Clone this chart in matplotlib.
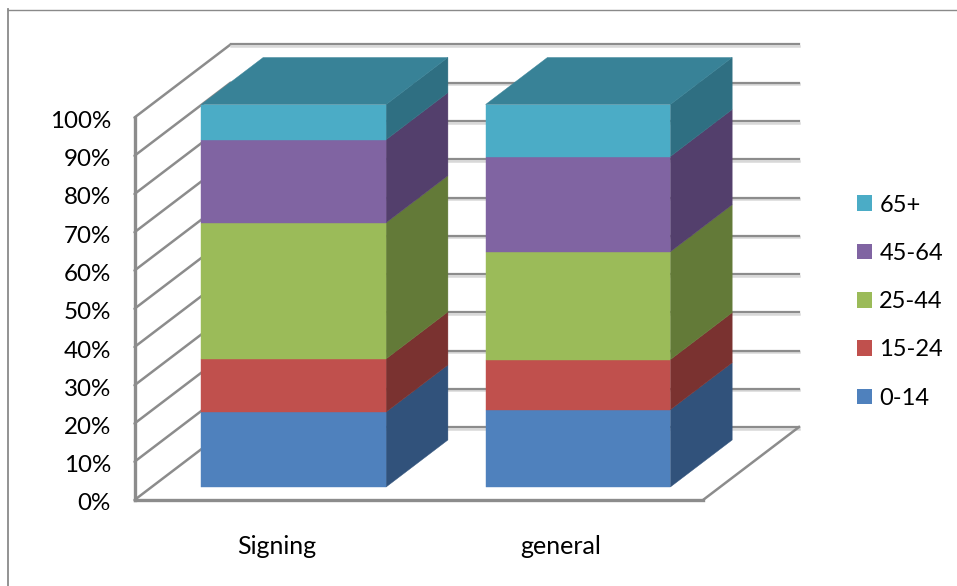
import matplotlib
matplotlib.use("Agg")
import matplotlib.pyplot as plt
from matplotlib.lines import Line2D
from matplotlib.patches import Patch, Polygon
from matplotlib.transforms import ScaledTranslation

plt.rcParams["font.family"] = ["Lato", "DejaVu Sans"]

# Population share by age band
categories = ["Signing", "general"]
age_bands = ["0-14", "15-24", "25-44", "45-64", "65+"]
signing_values = [19.6, 13.9, 35.6, 21.7, 9.2]
general_values = [20.2, 13.1, 28.2, 24.9, 13.6]
series_by_category = [signing_values, general_values]
y_ticks = list(range(0, 101, 10))

front_colors = ["#4f81bd", "#c0504d", "#9bbb59", "#8064a2", "#4bacc6"]
side_colors = ["#31527b", "#7a3230", "#637a38", "#533f6c", "#2f6f82"]
top_color = "#388297"
grid_color = "#8c8c8c"
shadow_color = "#d8d8d8"

W, H = 957, 586
fig = plt.figure(figsize=(W / 100, H / 100), dpi=100, facecolor="white")

# The axes rectangle is the front plane of the oblique box
left, right, bottom, top = 134.5, 703.0, 500.0, 117.5
ax = fig.add_axes([left / W, 1 - bottom / H, (right - left) / W, (bottom - top) / H])
ax.set_xlim(0, len(categories))
ax.set_ylim(0, 100)
ax.set_facecolor("none")

# Oblique depth: full box depth in category and percent units
depth_x = 96.0 / ((right - left) / len(categories))
depth_y = 73.0 / ((bottom - top) / 100)


def project(x, y, z):
    return x + z * depth_x, y + z * depth_y


def face(corners, color, zorder):
    ax.add_patch(Polygon([project(*c) for c in corners], closed=True, facecolor=color,
                         edgecolor=color, linewidth=0.3, zorder=zorder, clip_on=False))


# Wall and floor lines
for tick in y_ticks:
    xs, ys = zip(project(0, tick, 0), project(0, tick, 1))
    bx, by = zip(project(0, tick, 1), project(len(categories), tick, 1))
    ax.plot(xs, ys, color=grid_color, lw=1.8, zorder=1, clip_on=False, solid_capstyle="round")
    ax.plot(bx, [v - 0.45 for v in by], color=shadow_color, lw=1.8, zorder=1, clip_on=False)
    ax.plot(bx, by, color=grid_color, lw=1.6, zorder=1.1, clip_on=False)
fx, fy = zip(project(len(categories), 0, 0), project(len(categories), 0, 1))
ax.plot(fx, fy, color=grid_color, lw=1.8, zorder=1.1, clip_on=False)

# Stacked boxes
bar_start, bar_width = 0.175, 0.65
z_front, z_back = 0.178, 0.822
for i, values in enumerate(series_by_category):
    x0, x1 = i + bar_start, i + bar_start + bar_width
    base = 0.0
    for j, value in enumerate(values):
        head = base + value
        face([(x1, base, z_front), (x1, base, z_back), (x1, head, z_back), (x1, head, z_front)],
             side_colors[j], 3 + j)
        face([(x0, base, z_front), (x1, base, z_front), (x1, head, z_front), (x0, head, z_front)],
             front_colors[j], 3.5 + j)
        base = head
    face([(x0, base, z_front), (x1, base, z_front), (x1, base, z_back), (x0, base, z_back)],
         top_color, 9)

# Axes furniture
ax.set_xticks([i + 0.5 for i in range(len(categories))], categories)
ax.set_yticks(y_ticks, [f"{t}%" for t in y_ticks])
ax.tick_params(axis="both", length=0, labelcolor="black")
ax.tick_params(axis="x", pad=25, labelsize=18)
ax.tick_params(axis="y", pad=17, labelsize=17.4)
nudge = ScaledTranslation(0, -2 / 72 * 72 / 100, fig.dpi_scale_trans)
for label in ax.get_yticklabels():
    label.set_transform(label.get_transform() + nudge)
for name in ("top", "right"):
    ax.spines[name].set_visible(False)
for name in ("left", "bottom"):
    ax.spines[name].set_color(grid_color)
    ax.spines[name].set_linewidth(2.4)
    ax.spines[name].set_zorder(2)

# Legend, newest band on top
handles = [Patch(facecolor=c, edgecolor="none") for c in front_colors[::-1]]
ax.legend(handles, age_bands[::-1], loc="upper left",
          bbox_to_anchor=(850 / W, 1 - 187.5 / H), bbox_transform=fig.transFigure,
          frameon=False, fontsize=17, handlelength=0.64, handleheight=0.64,
          handletextpad=0.3, labelspacing=1.155, borderpad=0.3, borderaxespad=0)

# Chart area border, visible along its top and left edges
border = "#8a8a8a"
fig.add_artist(Line2D([8 / W, 8 / W], [0, 1 - 9 / H], color=border, lw=1.3))
fig.add_artist(Line2D([8 / W, 1], [1 - 9.5 / H, 1 - 9.5 / H], color=border, lw=1.0))

fig.savefig("out.png", dpi=100)
